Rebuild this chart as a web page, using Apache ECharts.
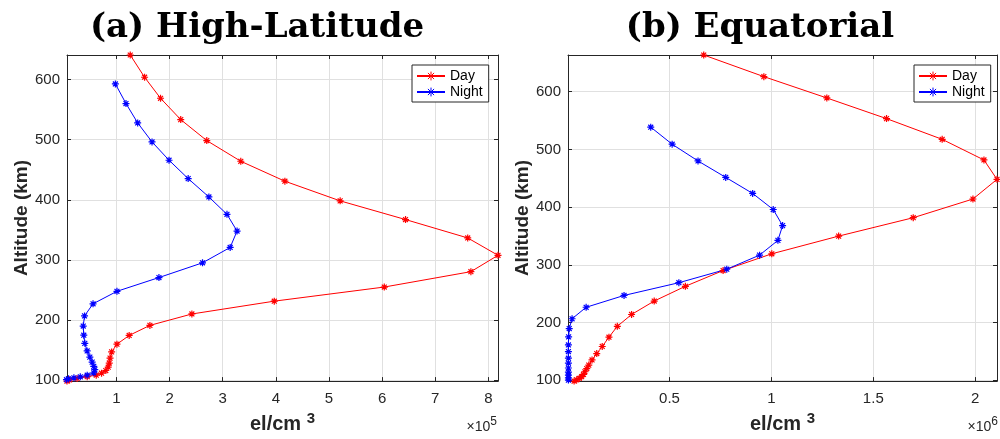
<!DOCTYPE html>
<html>
<head>
<meta charset="utf-8">
<script src="https://cdn.jsdelivr.net/npm/echarts@6/dist/echarts.min.js"></script>
<style>
  html, body { margin: 0; padding: 0; background: #fff; }
  #chart { width: 1000px; height: 439px; }
</style>
</head>
<body>
<div id="chart"></div>
<script>
// (a) High-Latitude, density in units of 1e5 el/cm^3, altitude in km
const hlDayNe = [1.26, 1.53, 1.83, 2.21, 2.70, 3.34, 4.17, 5.21, 6.44, 7.61, 8.18, 7.67, 6.04, 3.97, 2.42, 1.63, 1.24, 1.01, 0.91, 0.88, 0.865, 0.845, 0.80, 0.72, 0.62, 0.45, 0.26, 0.12, 0.07];
const hlDayAlt = [641, 604, 569, 533.5, 498.6, 464.2, 431, 398.3, 367.2, 336.6, 307.7, 280.5, 254.9, 231.4, 210.1, 191.1, 174.4, 159.8, 147, 136.6, 128.4, 121.5, 116, 111.5, 108.3, 105.8, 102.8, 100.5, 98.4];
const hlNightNe = [0.98, 1.18, 1.40, 1.67, 1.99, 2.35, 2.74, 3.08, 3.27, 3.14, 2.62, 1.80, 1.01, 0.56, 0.40, 0.375, 0.386, 0.405, 0.449, 0.50, 0.543, 0.574, 0.593, 0.574, 0.45, 0.32, 0.20, 0.10, 0.06];
const hlNightAlt = [592.9, 560.2, 528, 496.4, 465.9, 435.3, 404.8, 375.9, 348.1, 320.8, 295.2, 270.7, 247.8, 227, 206.9, 190, 174.8, 161.2, 148.6, 138.3, 130, 122.9, 117.5, 112, 108.2, 105.5, 103.8, 102.3, 100.8];

// (b) Equatorial, density in units of 1e6 el/cm^3
const eqDayNe = [0.668, 0.963, 1.272, 1.565, 1.838, 2.043, 2.107, 1.989, 1.696, 1.330, 1.002, 0.763, 0.578, 0.425, 0.314, 0.244, 0.203, 0.170, 0.143, 0.120, 0.104, 0.094, 0.085, 0.078, 0.069, 0.057, 0.045, 0.032];
const eqDayAlt = [663.7, 626.2, 589.2, 553.4, 517.5, 481.7, 448.1, 414, 381.6, 349.7, 319, 290, 262.7, 237.1, 213.8, 193.3, 174.5, 158.3, 146, 135, 126, 120, 114.5, 110, 106, 103, 100.5, 98.3];
const eqNightNe = [0.408, 0.513, 0.640, 0.776, 0.908, 1.009, 1.055, 1.032, 0.942, 0.781, 0.546, 0.277, 0.091, 0.022, 0.008, 0.005, 0.004, 0.004, 0.004, 0.004, 0.004, 0.004, 0.004, 0.004, 0.004];
const eqNightAlt = [538.6, 509, 480, 451.5, 423.7, 395.8, 367.9, 342.3, 316.7, 292.3, 268.9, 246.8, 226.3, 206.4, 189.4, 175, 161, 149.5, 138, 129.6, 121, 114, 108.5, 104, 100];

const titles = ["(a) High-Latitude", "(b) Equatorial"];
const expLabels = ["5", "6"];

const zip = (xs, ys) => xs.map((x, i) => [x, ys[i]]);
const axisColor = "#262626";
const star = "path://M0 -5 L0 5 M-5 0 L5 0 M-3.5 -3.5 L3.5 3.5 M-3.5 3.5 L3.5 -3.5";

// labels only on multiples of the step (edges are tight to the data)
function stepLabel(step) {
  return (v) => {
    const k = v / step;
    return Math.abs(k - Math.round(k)) < 1e-6 ? String(+v.toFixed(3)) : "";
  };
}

function makeX(grid, pos, min, max, split, step) {
  const main = pos === "bottom";
  return {
    type: "value", gridIndex: grid, position: pos, min, max, splitNumber: split,
    axisLine: { show: true, onZero: false, lineStyle: { color: axisColor, width: 1 } },
    axisTick: { show: true, inside: true, length: 4, lineStyle: { color: axisColor } },
    axisLabel: { show: main, formatter: stepLabel(step), color: axisColor, fontSize: 15, fontFamily: "Liberation Sans", margin: 10 },
    splitLine: { show: main, lineStyle: { color: "#e0e0e0", width: 1 } },
    name: main ? "el/cm {sup|3}" : "",
    nameLocation: "middle", nameGap: 27,
    nameTextStyle: {
      color: axisColor, fontSize: 20, fontWeight: "bold", fontFamily: "Liberation Sans",
      rich: { sup: { fontSize: 15, fontWeight: "bold", fontFamily: "Liberation Sans", color: axisColor, padding: [0, 0, 11, 0] } }
    }
  };
}

function makeY(grid, pos, min, max) {
  const main = pos === "left";
  return {
    type: "value", gridIndex: grid, position: pos, min, max, splitNumber: 5,
    axisLine: { show: true, onZero: false, lineStyle: { color: axisColor, width: 1 } },
    axisTick: { show: true, inside: true, length: 4, lineStyle: { color: axisColor } },
    axisLabel: { show: main, formatter: stepLabel(100), color: axisColor, fontSize: 15, fontFamily: "Liberation Sans", margin: 7 },
    splitLine: { show: main, lineStyle: { color: "#e0e0e0", width: 1 } },
    name: main ? "Altitude (km)" : "",
    nameLocation: "middle", nameGap: 36,
    nameTextStyle: { color: axisColor, fontSize: 19, fontWeight: "bold", fontFamily: "Liberation Sans" }
  };
}

function line(name, color, xi, yi, data) {
  return {
    name, type: "line", xAxisIndex: xi, yAxisIndex: yi, data,
    clip: false, animation: false,
    symbol: star, symbolSize: 7,
    lineStyle: { color, width: 1 },
    itemStyle: { color, borderColor: color, borderWidth: 1.2 }
  };
}

function legend(left) {
  return {
    orient: "vertical", left, top: 65,
    data: ["Day", "Night"],
    backgroundColor: "#fff", borderColor: axisColor, borderWidth: 1,
    padding: [4, 6, 3, 4], itemGap: 2, itemWidth: 28, itemHeight: 11,
    itemStyle: { borderWidth: 1 },
    textStyle: { fontSize: 14, fontFamily: "Liberation Sans", color: "#000" }
  };
}

const chart = echarts.init(document.getElementById("chart"), null, { renderer: "canvas" });
chart.setOption({
  animation: false,
  backgroundColor: "#fff",
  grid: [
    { left: 67, top: 55, width: 431, height: 332 },
    { left: 568, top: 55, width: 431, height: 332 }
  ],
  xAxis: [
    makeX(0, "bottom", 0.07, 8.18, 8, 1),
    makeX(0, "top", 0.07, 8.18, 8, 1),
    makeX(1, "bottom", 0.002, 2.107, 4, 0.5),
    makeX(1, "top", 0.002, 2.107, 4, 0.5)
  ],
  yAxis: [
    makeY(0, "left", 98.4, 641),
    makeY(0, "right", 98.4, 641),
    makeY(1, "left", 98.3, 663.7),
    makeY(1, "right", 98.3, 663.7)
  ],
  legend: [legend(412), legend(914)],
  series: [
    line("Day", "#ff0000", 0, 0, zip(hlDayNe, hlDayAlt)),
    line("Night", "#0000ff", 0, 0, zip(hlNightNe, hlNightAlt)),
    line("Day", "#ff0000", 2, 2, zip(eqDayNe, eqDayAlt)),
    line("Night", "#0000ff", 2, 2, zip(eqNightNe, eqNightAlt))
  ],
  graphic: [
    { type: "text", x: 257, y: 28, style: { text: titles[0], font: "bold 34px 'DejaVu Serif'", fill: "#000", align: "center", verticalAlign: "middle" } },
    { type: "text", x: 760, y: 28, style: { text: titles[1], font: "bold 34px 'DejaVu Serif'", fill: "#000", align: "center", verticalAlign: "middle" } },
    { type: "text", x: 497, y: 427, style: { text: "×10{s|" + expLabels[0] + "}", align: "right", verticalAlign: "middle", font: "14px 'Liberation Sans'", fill: axisColor, rich: { s: { fontSize: 12, fontFamily: "Liberation Sans", fill: axisColor, padding: [0, 0, 10, 0] } } } },
    { type: "text", x: 998, y: 427, style: { text: "×10{s|" + expLabels[1] + "}", align: "right", verticalAlign: "middle", font: "14px 'Liberation Sans'", fill: axisColor, rich: { s: { fontSize: 12, fontFamily: "Liberation Sans", fill: axisColor, padding: [0, 0, 10, 0] } } } }
  ]
});
</script>
</body>
</html>
